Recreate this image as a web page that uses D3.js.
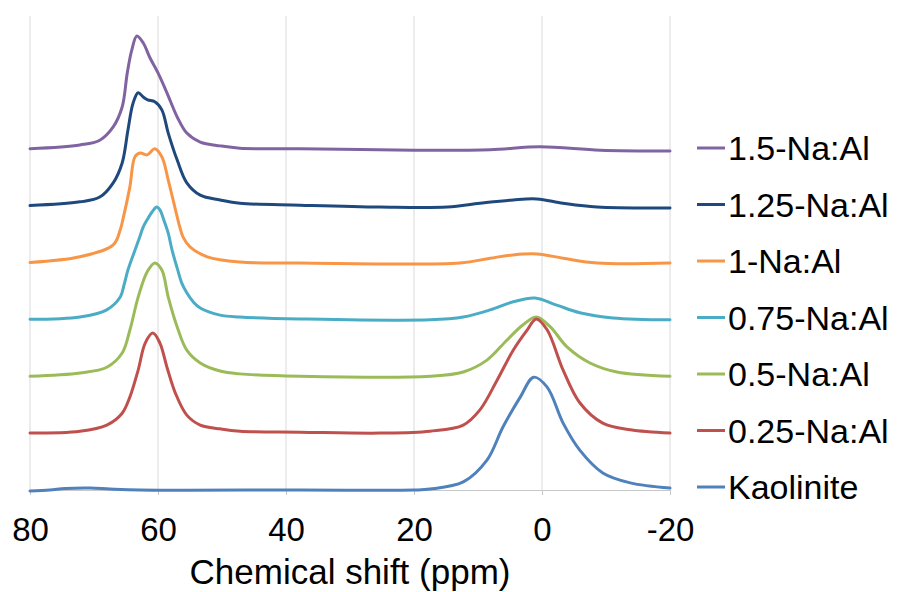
<!DOCTYPE html>
<html>
<head>
<meta charset="utf-8">
<script src="https://cdn.jsdelivr.net/npm/d3@7/dist/d3.min.js"></script>
<style>
  html, body { margin: 0; padding: 0; background: #fff; }
  svg { display: block; font-family: Arial, "Liberation Sans", sans-serif; }
</style>
</head>
<body>
<svg id="chart" width="897" height="592"></svg>
<script>
// 27Al MAS NMR spectra, stacked with a constant vertical offset per sample.
// Each spectrum: [chemical shift (ppm), intensity (a.u.)]
const na150 = [[80,0],[72.2,0.8],[69.1,1.8],[67.0,4.6],[65.6,8.8],[64.8,16.0],[64.1,20.8],[63.3,23.8],[62.3,22.3],[61.3,19.3],[60.0,16.0],[58.6,11.8],[57.0,6.7],[55.5,3.3],[53.4,1.4],[50.3,0.6],[47.2,0.1],[37.8,0],[20,-0.3],[8.1,-0.2],[0.3,0.4],[-9.1,-0.3],[-20,-0.5]];
const na125 = [[80,0],[72.2,0.8],[69.1,1.8],[67.0,4.8],[65.6,9.0],[64.7,15.9],[63.9,21.6],[63.1,23.8],[62.3,22.9],[61.6,22.3],[60.5,21.9],[59.4,20.2],[58.4,15.3],[57.0,9.6],[55.5,4.8],[53.4,2.2],[50.3,1.2],[47.2,0.5],[37.8,0.1],[25.3,-0.3],[14.8,-0.3],[9.7,0.5],[4.5,1.2],[0.8,1.4],[-3.3,0.5],[-8.6,-0.3],[-20,-0.5]];
const na100 = [[80,0],[72.2,1.2],[67.0,3.7],[65.9,6.9],[65.5,9.0],[64.4,15.9],[63.6,22.3],[62.8,23.1],[61.7,22.7],[60.5,24.0],[59.4,22.3],[58.4,17.4],[57.0,9.6],[56.6,7.5],[56.1,5.4],[55.0,3.3],[52.3,1.2],[47.2,0.1],[37.8,-0.1],[12.8,-0.1],[8.1,0.9],[4.5,1.6],[0.8,1.8],[-3.3,0.9],[-8.6,-0.1],[-20,-0.1]];
const na075 = [[80,0],[72.2,0.5],[68.0,2.0],[65.9,4.7],[65.3,7.3],[64.7,10.4],[63.6,14.6],[62.8,17.6],[62.3,19.5],[61.7,21.0],[60.9,22.7],[60.2,23.7],[59.7,23.1],[59.1,21.0],[58.4,18.2],[57.8,14.6],[57.0,10.8],[56.3,7.7],[55.5,5.6],[54.5,3.7],[53.4,2.4],[50.3,0.9],[47.2,0.5],[37.8,0.1],[17.5,-0.1],[12.3,0.5],[8.1,2.0],[4.5,3.7],[1.1,4.5],[-2.3,3.0],[-5.9,1.4],[-11.1,0.3],[-20,-0.1]];
const na050 = [[80,0],[72.2,0.7],[68.0,1.9],[65.6,4.9],[64.4,9.7],[63.1,16.7],[61.7,22.0],[60.5,23.9],[59.4,22.4],[58.4,16.7],[57.0,10.4],[55.5,5.5],[53.4,2.8],[50.3,1.1],[47.2,0.5],[37.8,0],[17.5,0],[12.3,0.9],[8.6,3.4],[5.5,7.6],[3.0,10.8],[0.9,12.5],[-1.3,10.4],[-3.9,6.2],[-7.5,2.8],[-11.7,0.9],[-20,0]];
const na025 = [[80,0],[72.2,0.4],[68.0,1.7],[65.6,4.2],[64.4,7.6],[63.1,13.3],[62.0,19.0],[60.8,21.1],[59.7,19.0],[58.6,13.9],[57.3,8.5],[55.5,3.8],[53.4,1.7],[50.3,0.9],[47.2,0.4],[37.8,0.2],[25.3,0],[17.5,0.4],[12.3,1.7],[9.7,4.9],[7.0,11.2],[4.5,17.5],[2.3,21.8],[0.9,24.1],[-0.8,21.8],[-3.3,13.3],[-5.9,6.4],[-9.5,2.1],[-13.8,0.7],[-20,0]];
const kaolinite = [[80,-0.2],[76.9,0],[74.5,0.3],[70.6,0.4],[67.5,0.2],[62.8,0],[37.8,0],[20,0],[17.5,0.2],[12.3,1.7],[8.6,6.3],[6.1,13.3],[3.4,19.6],[1.3,23.8],[-0.8,21.7],[-3.3,14.1],[-5.9,8.4],[-9.5,3.6],[-13.8,1.5],[-20,0.4]];

const seriesNames = ["1.5-Na:Al", "1.25-Na:Al", "1-Na:Al", "0.75-Na:Al", "0.5-Na:Al", "0.25-Na:Al", "Kaolinite"];
const seriesData = [na150, na125, na100, na075, na050, na025, kaolinite];
const stackOffsets = [72, 60, 48, 36, 24, 12, 0];
const seriesColors = ["#8064A2", "#1F497D", "#F79646", "#4BACC6", "#9BBB59", "#C0504D", "#4F81BD"];
const xTicks = [80, 60, 40, 20, 0, -20];
const xTitle = "Chemical shift (ppm)";

const svg = d3.select("#chart");
const plot = { left: 30, right: 670, top: 16, bottom: 490 };

const x = d3.scaleLinear().domain([80, -20]).range([plot.left, plot.right]);
const y = d3.scaleLinear().domain([0, 100]).range([plot.bottom, plot.top]);

// vertical gridlines
svg.append("g")
  .selectAll("line")
  .data(xTicks)
  .join("line")
  .attr("x1", d => x(d)).attr("x2", d => x(d))
  .attr("y1", plot.top).attr("y2", plot.bottom)
  .attr("stroke", "#d9d9d9").attr("stroke-width", 1);

// bottom axis (plain hyphen for negative labels)
const xAxis = d3.axisBottom(x).tickValues(xTicks).tickSize(5).tickPadding(23).tickFormat(d => String(d));
const gx = svg.append("g").attr("transform", `translate(0,${plot.bottom})`).call(xAxis);
gx.select(".domain").attr("stroke", "#c8c8c8");
gx.selectAll(".tick line").attr("stroke", "#c8c8c8");
gx.selectAll(".tick text")
  .attr("fill", "#000")
  .style("font-size", "33px")
  .style("font-family", "Arial, 'Liberation Sans', sans-serif")
  .attr("dy", "0.71em");

svg.append("text")
  .attr("x", (plot.left + plot.right) / 2)
  .attr("y", 584)
  .attr("text-anchor", "middle")
  .style("font-size", "35px")
  .attr("fill", "#000")
  .text(xTitle);

// spectra
const line = d3.line()
  .x(d => x(d[0]))
  .y(d => y(d[1]))
  .curve(d3.curveCatmullRom.alpha(0.5));

svg.append("g")
  .selectAll("path")
  .data(seriesData.map((s, i) => s.map(p => [p[0], p[1] + stackOffsets[i]])))
  .join("path")
  .attr("d", line)
  .attr("fill", "none")
  .attr("stroke", (d, i) => seriesColors[i])
  .attr("stroke-width", 3)
  .attr("stroke-linejoin", "round")
  .attr("stroke-linecap", "round");

// legend
const legend = svg.append("g");
const rowY = i => 148 + i * 56.5;
seriesNames.forEach((name, i) => {
  legend.append("line")
    .attr("x1", 697).attr("x2", 725)
    .attr("y1", rowY(i)).attr("y2", rowY(i))
    .attr("stroke", seriesColors[i]).attr("stroke-width", 3);
  legend.append("text")
    .attr("x", 728)
    .attr("y", rowY(i) + 12)
    .style("font-size", "34px")
    .attr("fill", "#000")
    .text(name);
});
</script>
</body>
</html>
